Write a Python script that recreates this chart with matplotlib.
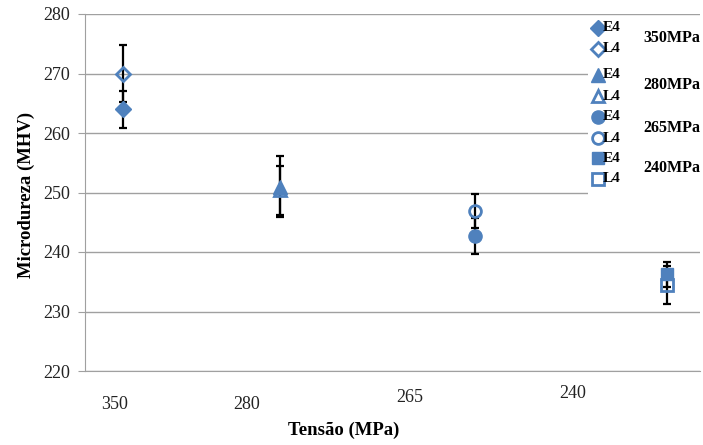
import matplotlib.pyplot as plt

plt.rcParams['font.family'] = ['Liberation Serif', 'DejaVu Serif']

# Data
tensions = ['350', '280', '265', '240']
e4_values = [264.0, 251.0, 242.7, 236.3]
e4_errors = [3.1, 5.1, 3.0, 2.1]
l4_values = [270.0, 250.4, 246.9, 234.4]
l4_errors = [4.8, 4.1, 2.8, 3.2]
markers = ['D', '^', 'o', 's']
legend_labels = ['350MPa', '280MPa', '265MPa', '240MPa']

# Layout (the scanned chart has uneven category spacing)
x_pos = [0.0, 0.866, 1.94, 3.0]
label_x = [-0.044, 0.684, 1.58, 2.48]
label_dy = [0, 0, 5, 8]
blue = '#4F81BD'
grid_gray = '#a0a0a0'
msize = {'D': 8.5, '^': 10, 'o': 9.5, 's': 9}

fig = plt.figure(figsize=(7.03, 4.45), dpi=100)
ax = fig.add_axes([85 / 703, 1 - 371 / 445, 615 / 703, 357 / 445])

ax.set_ylim(220, 280)
ax.set_xlim(-0.2096, 3.183)
ax.set_yticks(range(220, 281, 10))
ax.yaxis.grid(True, color=grid_gray, lw=1)
ax.set_axisbelow(True)
for s in ['top', 'right']:
    ax.spines[s].set_visible(False)
for s in ['left', 'bottom']:
    ax.spines[s].set_color(grid_gray)
ax.tick_params(axis='y', length=5, color=grid_gray, labelsize=13, pad=6,
               labelcolor='#222222')
ax.tick_params(axis='x', length=0, labelbottom=False)

for i, m in enumerate(markers):
    ax.errorbar(x_pos[i], e4_values[i], yerr=e4_errors[i], fmt='none',
                ecolor='black', elinewidth=1.6, capsize=3, capthick=1.6, zorder=2)
    ax.errorbar(x_pos[i], l4_values[i], yerr=l4_errors[i], fmt='none',
                ecolor='black', elinewidth=1.6, capsize=3, capthick=1.6, zorder=2)
    ax.plot(x_pos[i], e4_values[i], marker=m, ms=msize[m], color=blue,
            mec=blue, ls='none', zorder=3)
    ax.plot(x_pos[i], l4_values[i], marker=m, ms=msize[m] - 1, mfc='none',
            mec=blue, mew=2, ls='none', zorder=3)

# category labels (staggered as in the original)
for i, t in enumerate(tensions):
    ax.annotate(t, xy=(label_x[i], 0), xycoords=ax.get_xaxis_transform(),
                xytext=(0, -24 + label_dy[i]), textcoords='offset points',
                ha='center', va='center', fontsize=13, color='#222222')

fig.text(344 / 703, 1 - 430 / 445, 'Tensão (MPa)', ha='center', va='center',
         fontsize=13.5, fontweight='bold')
fig.text(26 / 703, 1 - 195 / 445, 'Microdureza (MHV)', ha='center', va='center',
         rotation=90, fontsize=13.5, fontweight='bold')

# custom legend in a white box over the grid
lax = fig.add_axes([588 / 703, 1 - 195 / 445, 115 / 703, 177 / 445])
lax.set_xlim(588, 703)
lax.set_ylim(195, 18)
lax.patch.set_facecolor('white')
for s in lax.spines.values():
    s.set_visible(False)
lax.set_xticks([])
lax.set_yticks([])

group_y = [28, 75, 117, 158]
for i, m in enumerate(markers):
    y0 = group_y[i]
    y1 = y0 + 21
    lax.plot(598, y0, marker=m, ms=msize[m], color=blue, ls='none')
    lax.plot(598, y1, marker=m, ms=msize[m] - 1, mfc='none', mec=blue,
             mew=2, ls='none')
    lax.text(603, y0, 'E4', fontsize=11, fontweight='bold', va='center')
    lax.text(603, y1, 'L4', fontsize=11, fontweight='bold', va='center')
    lax.text(672, (y0 + y1) / 2, legend_labels[i], fontsize=11.5,
             fontweight='bold', ha='center', va='center')

fig.savefig('out.png', dpi=100, facecolor='white')
